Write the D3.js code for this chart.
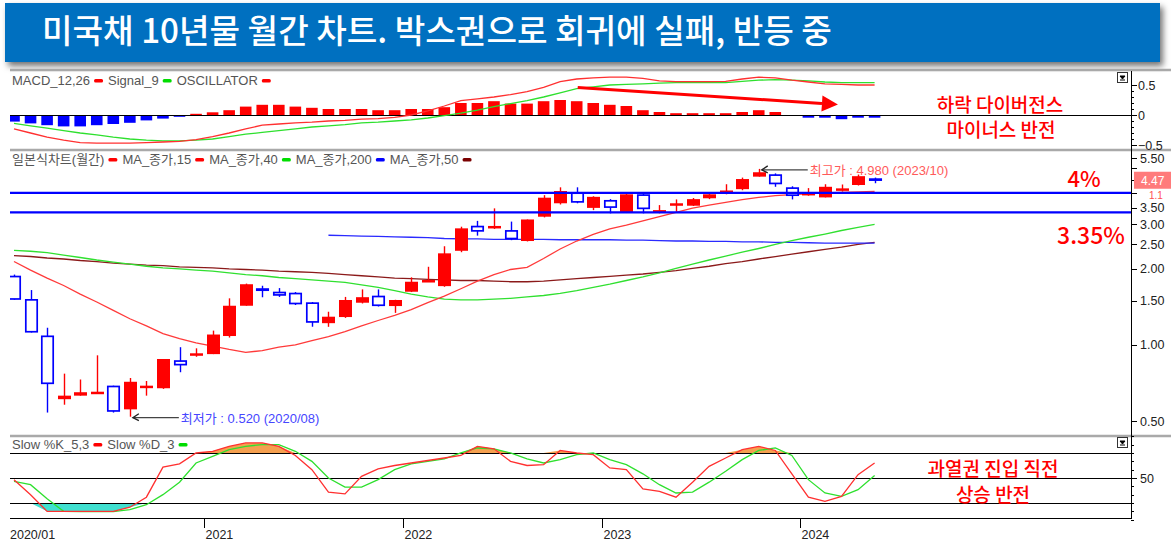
<!DOCTYPE html>
<html><head><meta charset="utf-8">
<script src="https://cdn.jsdelivr.net/npm/d3@7"></script>
<style>body{margin:0;background:#fff;overflow:hidden}svg{display:block}</style>
</head><body>
<svg id="c" width="1171" height="541"></svg>
<script>
// ---------------- DATA ----------------
const months = ["2020/01","2020/02","2020/03","2020/04","2020/05","2020/06","2020/07","2020/08","2020/09","2020/10","2020/11","2020/12",
"2021/01","2021/02","2021/03","2021/04","2021/05","2021/06","2021/07","2021/08","2021/09","2021/10","2021/11","2021/12",
"2022/01","2022/02","2022/03","2022/04","2022/05","2022/06","2022/07","2022/08","2022/09","2022/10","2022/11","2022/12",
"2023/01","2023/02","2023/03","2023/04","2023/05","2023/06","2023/07","2023/08","2023/09","2023/10","2023/11","2023/12",
"2024/01","2024/02","2024/03","2024/04","2024/05"];
const openV = [1.88,1.52,1.09,0.61,0.63,0.643,0.69,0.556,0.677,0.674,
0.87,0.907,0.92,1.085,1.43,1.677,1.625,1.61,1.475,1.22,
1.29,1.47,1.567,1.426,1.625,1.79,1.71,2.36,2.965,2.90,
2.85,2.58,3.22,3.64,4.02,3.49,3.75,3.34,3.95,3.37,
3.60,3.56,3.81,3.99,4.14,4.64,4.74,4.21,3.92,3.84,
4.13,4.30,4.57];
const highV = [1.90,1.65,1.17,0.77,0.73,0.91,0.69,0.74,0.72,0.88,
0.98,0.97,1.14,1.53,1.75,1.716,1.68,1.62,1.48,1.354,
1.55,1.66,1.66,1.51,1.853,2.04,2.46,2.94,3.10,3.475,
3.08,3.14,3.92,4.21,4.21,3.88,3.78,3.98,4.02,3.58,
3.77,3.82,4.02,4.33,4.60,4.98,4.78,4.25,4.18,4.33,
4.32,4.73,4.60];
const lowV = [1.51,1.12,0.54,0.58,0.63,0.64,0.54,0.52,0.63,0.67,
0.78,0.898,0.92,1.07,1.43,1.545,1.55,1.44,1.181,1.18,
1.28,1.46,1.42,1.34,1.62,1.78,1.70,2.33,2.71,2.88,
2.60,2.57,3.20,3.60,3.64,3.42,3.32,3.33,3.32,3.32,
3.37,3.55,3.78,3.95,4.10,4.64,4.23,3.77,3.90,3.84,
4.05,4.28,4.37];
const closeV = [1.51,1.12,0.70,0.63,0.65,0.653,0.544,0.715,0.69,0.88,
0.83,0.927,1.10,1.43,1.74,1.636,1.567,1.449,1.225,1.294,
1.507,1.546,1.426,1.507,1.78,1.808,2.306,2.896,2.81,2.96,
2.62,3.14,3.83,4.07,3.66,3.86,3.49,3.95,3.45,3.42,
3.64,3.78,3.95,4.09,4.54,4.83,4.33,3.89,4.00,4.23,
4.17,4.66,4.47];
const ma15 = [2.14,1.98,1.84,1.72,1.59,1.48,1.37,1.27,1.19,1.11,
1.06,1.02,0.99,0.96,0.935,0.95,0.98,1.00,1.04,1.08,
1.13,1.19,1.25,1.31,1.38,1.47,1.56,1.67,1.79,1.90,
1.99,2.03,2.20,2.40,2.58,2.74,2.88,2.98,3.10,3.22,
3.35,3.48,3.58,3.67,3.76,3.84,3.90,3.94,3.97,4.00,
4.02,4.04,4.06];
const ma40 = [2.37,2.35,2.32,2.27,2.22,2.17,2.13,2.09,2.05,2.02,
2.00,1.98,1.96,1.93,1.90,1.88,1.85,1.83,1.81,1.79,
1.77,1.73,1.69,1.64,1.59,1.55,1.52,1.51,1.51,1.52,
1.53,1.55,1.57,1.60,1.64,1.69,1.74,1.80,1.86,1.93,
2.01,2.09,2.17,2.25,2.33,2.41,2.50,2.59,2.67,2.75,
2.84,2.92,3.00];
const ma200 = [null,null,null,null,null,null,null,null,null,null,
null,null,null,null,null,null,null,null,null,2.72,
2.71,2.70,2.69,2.68,2.67,2.66,2.64,2.63,2.63,2.62,
2.62,2.62,2.62,2.61,2.61,2.61,2.61,2.60,2.60,2.59,
2.58,2.58,2.57,2.57,2.56,2.56,2.55,2.55,2.54,2.53,
2.53,2.53,2.53];
const ma50 = [2.26,2.24,2.21,2.19,2.16,2.14,2.11,2.09,2.07,2.06,
2.04,2.03,2.02,2.00,1.99,1.98,1.96,1.95,1.94,1.92,
1.90,1.88,1.86,1.84,1.83,1.82,1.81,1.80,1.80,1.79,
1.78,1.78,1.79,1.81,1.83,1.85,1.87,1.89,1.91,1.94,
1.97,2.01,2.05,2.10,2.14,2.19,2.24,2.29,2.34,2.39,
2.44,2.50,2.55];
const macdV = [-0.23,-0.30,-0.37,-0.42,-0.46,-0.47,-0.47,-0.47,-0.46,-0.45,
-0.44,-0.41,-0.36,-0.30,-0.23,-0.17,-0.15,-0.13,-0.12,-0.10,
-0.09,-0.07,-0.06,-0.04,0.00,0.07,0.15,0.24,0.27,0.30,
0.34,0.39,0.46,0.555,0.60,0.62,0.63,0.63,0.61,0.57,
0.555,0.555,0.555,0.56,0.60,0.63,0.62,0.58,0.55,0.52,
0.51,0.50,0.50];
const signalV = [-0.14,-0.18,-0.22,-0.26,-0.30,-0.33,-0.37,-0.40,-0.42,-0.43,
-0.43,-0.42,-0.40,-0.36,-0.32,-0.29,-0.26,-0.23,-0.20,-0.18,
-0.16,-0.13,-0.12,-0.10,-0.08,-0.05,-0.01,0.03,0.08,0.14,
0.19,0.24,0.30,0.37,0.44,0.47,0.50,0.51,0.52,0.53,
0.54,0.54,0.54,0.54,0.56,0.58,0.59,0.58,0.57,0.55,
0.54,0.54,0.54];
const oscV = [-0.11,-0.14,-0.17,-0.19,-0.19,-0.17,-0.15,-0.13,-0.09,-0.06,
-0.03,0.02,0.045,0.08,0.14,0.17,0.17,0.14,0.12,0.10,
0.10,0.10,0.08,0.08,0.10,0.10,0.13,0.20,0.20,0.23,
0.19,0.19,0.23,0.25,0.23,0.20,0.17,0.15,0.08,0.05,
0.03,0.03,0.03,0.03,0.05,0.08,0.05,-0.01,-0.045,-0.045,
-0.07,-0.045,-0.045];
const slowK = [48,30,10,10,10,10,10,15,27,63,
67,80,82,88,92,92,88,77,60,33,
31,52,61,65,68,71,74,77,88,85,
70,65,66,83,80,78,62,60,37,34,
27,45,64,74,84,88,83,55,27,22,
28,54,68];
const slowD = [46,42,25,10,9.6,9.6,9.6,12,18,30,
45,68,76,84,88,90,90,82,70,50,
39,39,48,60,67,70,73,80,86,85,
80,73,68,72,78,80,72,66,55,42,
32,33,45,58,72,83,86,77,48,32,
28,36,53];
const priceTickVals = [0.5,1,1.5,2,2.5,3,3.5,4,4.5,5,5.5];
const priceTickLabels = [0.5,1,1.5,2,2.5,3,3.5,5.5];
const macdTickVals = [-0.5,0,0.5];
const yearTickMonths = ["2021/01","2022/01","2023/01","2024/01"];
const yearTickLabels = ["2021","2022","2023","2024"];
const boxLevels = [4.0, 3.35];
const lastPrice = "4.47";
const title = "미국채 10년물 월간 차트. 박스권으로 회귀에 실패, 반등 중";

// ---------------- SETUP ----------------
const svg = d3.select("#c");
const W = 1171, L = 10, AX = 1131;
const FONT = "'Liberation Sans', Arial, 'Noto Sans CJK KR', sans-serif";
const KFONT = "'Noto Sans CJK KR', 'Noto Sans', sans-serif";

const defs = svg.append("defs");
const sh = defs.append("filter").attr("id","sh").attr("x","-5%").attr("y","-20%").attr("width","110%").attr("height","160%");
sh.append("feDropShadow").attr("dx",3).attr("dy",4).attr("stdDeviation",3).attr("flood-color","#000").attr("flood-opacity",0.55);
const clips = [["cM",71,150],["cP",152,434],["cS",437,518]];
clips.forEach(([id,y0,y1])=>defs.append("clipPath").attr("id",id).append("rect").attr("x",L).attr("y",y0).attr("width",AX-L).attr("height",y1-y0));

const x = d3.scaleBand().domain(months).range([5.725, 5.725+16.55*months.length]).paddingInner(0.2).paddingOuter(0.1);
const cx = m => x(m) + x.bandwidth()/2;
const step = x.step();
const yP = d3.scaleLog().domain([0.5,5.5]).range([421,158]);
const yM = d3.scaleLinear().domain([-0.5,0.5]).range([145,85]);
const yS = d3.scaleLinear().domain([0,100]).range([519.7,436.3]);

// ---------------- TITLE BANNER ----------------
svg.append("rect").attr("x",5).attr("y",3).attr("width",1155).attr("height",59).attr("fill","#0070c0").attr("filter","url(#sh)");
const tt = svg.append("text").attr("x",42).attr("y",43).attr("fill","#fff").attr("font-family",KFONT).attr("font-weight",500).attr("font-size",28).text(title);
{ const w = tt.node().getComputedTextLength(); tt.attr("font-size", 28*790/w); }

// ---------------- FRAME ----------------
[70,150,436].forEach(y=>svg.append("line").attr("x1",L).attr("x2",W).attr("y1",y).attr("y2",y).attr("stroke","#a9a9a9").attr("stroke-width",2.5));
svg.append("line").attr("x1",AX+0.5).attr("x2",AX+0.5).attr("y1",71).attr("y2",519).attr("stroke","#000");
svg.append("line").attr("x1",L).attr("x2",AX).attr("y1",518.5).attr("y2",518.5).attr("stroke","#000");

function icon(x0,y0){
  const g = svg.append("g");
  g.append("rect").attr("x",x0+0.5).attr("y",y0+0.5).attr("width",10).attr("height",10).attr("fill","#fff").attr("stroke","#333");
  g.append("path").attr("d",`M${x0+3},${y0+4}h5l-2.5,3z M${x0+3},${y0+8}h5`).attr("fill","#000").attr("stroke","#000").attr("stroke-width",1);
}
icon(1117,72); icon(1117,437);

function legend(y, items){
  let xx = 12;
  items.forEach(([label,color])=>{
    const t = svg.append("text").attr("x",xx).attr("y",y).attr("font-family",FONT).attr("font-size",13).attr("fill","#555").text(label);
    xx += t.node().getComputedTextLength() + 4;
    svg.append("rect").attr("x",xx).attr("y",y-6).attr("width",9).attr("height",3.5).attr("rx",1.5).attr("fill",color);
    xx += 14;
  });
}

// ---------------- MACD PANEL ----------------
const gM = svg.append("g").attr("clip-path","url(#cM)");
gM.selectAll("rect.osc").data(months).join("rect")
  .attr("x",(m)=>cx(m)-5.8).attr("width",11.6)
  .attr("y",(m,i)=>Math.min(yM(oscV[i]),yM(0))).attr("height",(m,i)=>Math.abs(yM(oscV[i])-yM(0)))
  .attr("fill",(m,i)=>oscV[i]>=0?"#ff0000":"#0000ff");
gM.append("line").attr("x1",L).attr("x2",AX).attr("y1",yM(0)+0.5).attr("y2",yM(0)+0.5).attr("stroke","#000");
const lineM = arr => d3.line().x((d,i)=>cx(months[i])).y(d=>yM(d))(arr);
gM.append("path").attr("d",lineM(signalV)).attr("fill","none").attr("stroke","#2ee02e").attr("stroke-width",1.3);
gM.append("path").attr("d",lineM(macdV)).attr("fill","none").attr("stroke","#ff3030").attr("stroke-width",1.3);
legend(85,[["MACD_12,26","#ff0000"],["Signal_9","#00dd00"],["OSCILLATOR","#ff0000"]]);
{
  const x1 = cx("2022/11")+1, y1 = 87.5, x2 = cx("2024/02")-3, y2 = 103.5;
  const ang = Math.atan2(y2-y1,x2-x1);
  svg.append("line").attr("x1",x1).attr("y1",y1).attr("x2",x2).attr("y2",y2).attr("stroke","#ff0000").attr("stroke-width",3);
  const tip=[x2+16*Math.cos(ang), y2+16*Math.sin(ang)];
  const p1=[x2+8*Math.sin(ang), y2-8*Math.cos(ang)], p2=[x2-8*Math.sin(ang), y2+8*Math.cos(ang)];
  svg.append("path").attr("d",`M${tip}L${p1}L${p2}Z`).attr("fill","#ff0000");
}
const axM = svg.append("g");
d3.range(-0.5,0.51,0.1).forEach(v=>axM.append("line").attr("x1",AX).attr("x2",AX+3).attr("y1",Math.round(yM(v))+0.5).attr("y2",Math.round(yM(v))+0.5).attr("stroke","#000"));
macdTickVals.forEach(v=>{
  axM.append("line").attr("x1",AX).attr("x2",AX+6).attr("y1",yM(v)+0.5).attr("y2",yM(v)+0.5).attr("stroke","#000");
  axM.append("text").attr("x",AX+7).attr("y",yM(v)+4.5).attr("font-family",FONT).attr("font-size",12.5).attr("fill","#222").text(v===0?"0":d3.format(".1f")(v));
});

// ---------------- PRICE PANEL ----------------
const gP = svg.append("g").attr("clip-path","url(#cP)");
const lineP = arr => d3.line().defined(d=>d!=null).x((d,i)=>cx(months[i])).y(d=>yP(d))(arr);
[[ma50,"#8b1a1a"],[ma200,"#2a2aff"],[ma40,"#30e030"],[ma15,"#ff3a3a"]].forEach(([arr,c])=>
  gP.append("path").attr("d",lineP(arr)).attr("fill","none").attr("stroke",c).attr("stroke-width",1.3));
const bw = 13;
months.forEach((m,i)=>{
  const up = closeV[i]>=openV[i];
  const col = up?"#ff0000":"#0000ff";
  const xc = Math.round(cx(m))+0.5;
  gP.append("line").attr("x1",xc).attr("x2",xc).attr("y1",yP(highV[i])).attr("y2",yP(lowV[i])).attr("stroke",col).attr("stroke-width",1.4);
  const yt = yP(Math.max(openV[i],closeV[i])), yb = yP(Math.min(openV[i],closeV[i]));
  const h = Math.max(2.5, yb-yt);
  if(up) gP.append("rect").attr("x",xc-bw/2).attr("y",yt).attr("width",bw).attr("height",h).attr("fill",col);
  else gP.append("rect").attr("x",xc-bw/2+0.8).attr("y",yt+0.8).attr("width",bw-1.6).attr("height",Math.max(1,h-1.6)).attr("fill","#fff").attr("stroke",col).attr("stroke-width",1.7);
});
boxLevels.forEach(v=>svg.append("line").attr("x1",L).attr("x2",AX).attr("y1",yP(v)).attr("y2",yP(v)).attr("stroke","#0000ff").attr("stroke-width",2.2));
legend(164,[["일본식차트(월간)","#ff0000"],["MA_종가,15","#ff0000"],["MA_종가,40","#00dd00"],["MA_종가,200","#0000ff"],["MA_종가,50","#7a0000"]]);

function annot(m, v, dy, text, color){
  const tx = cx(m)+3, ty = yP(v)+dy;
  svg.append("line").attr("x1",tx).attr("x2",tx+46).attr("y1",ty).attr("y2",ty).attr("stroke","#444").attr("stroke-width",1.2);
  svg.append("path").attr("d",`M${tx+6},${ty-4}L${tx},${ty}L${tx+6},${ty+3}`).attr("fill","none").attr("stroke","#222").attr("stroke-width",1.3);
  svg.append("text").attr("x",tx+48).attr("y",ty+5).attr("font-family",FONT).attr("font-size",13).attr("fill",color).text(text);
}
annot("2023/10", 4.98, 1, "최고가 : 4.980 (2023/10)", "#ff5a5a");
annot("2020/08", 0.52, 1, "최저가 : 0.520 (2020/08)", "#4646ff");

const axP = svg.append("g");
priceTickVals.forEach(v=>axP.append("line").attr("x1",AX).attr("x2",AX+6).attr("y1",Math.round(yP(v))+0.5).attr("y2",Math.round(yP(v))+0.5).attr("stroke","#000"));
priceTickLabels.forEach(v=>axP.append("text").attr("x",AX+9).attr("y",yP(v)+4.5).attr("font-family",FONT).attr("font-size",12.5).attr("fill","#222").text(d3.format(".2f")(v)));
axP.append("rect").attr("x",AX+3).attr("y",yP(+lastPrice)-9).attr("width",40).attr("height",17).attr("fill","#ff7b7b");
axP.append("text").attr("x",AX+10).attr("y",yP(+lastPrice)+4).attr("font-family",FONT).attr("font-size",12).attr("fill","#fff").text(lastPrice);
axP.append("text").attr("x",AX+18).attr("y",yP(4.0)+6).attr("font-family",FONT).attr("font-size",10).attr("fill","#ff5050").text("1.1");

// ---------------- STOCHASTIC PANEL ----------------
const gS = svg.append("g").attr("clip-path","url(#cS)");
const xs = (d,i)=>cx(months[i]);
gS.append("path").attr("d",d3.area().x(xs).y0(yS(80)).y1(d=>yS(Math.max(d,80)))(slowK)).attr("fill","#f5a050");
gS.append("path").attr("d",d3.area().x(xs).y0(yS(20)).y1(d=>yS(Math.min(d,20)))(slowK)).attr("fill","#40e0d0");
[80,50,20].forEach(v=>gS.append("line").attr("x1",L).attr("x2",AX).attr("y1",Math.round(yS(v))+0.5).attr("y2",Math.round(yS(v))+0.5).attr("stroke","#000"));
gS.append("path").attr("d",d3.line().x(xs).y(d=>yS(d))(slowD)).attr("fill","none").attr("stroke","#2ee02e").attr("stroke-width",1.3);
gS.append("path").attr("d",d3.line().x(xs).y(d=>yS(d))(slowK)).attr("fill","none").attr("stroke","#ff3030").attr("stroke-width",1.3);
legend(449,[["Slow %K_5,3","#ff0000"],["Slow %D_3","#00dd00"]]);
const axS = svg.append("g");
d3.range(0,101,10).forEach(v=>axS.append("line").attr("x1",AX).attr("x2",AX+(v===50?6:3)).attr("y1",Math.round(yS(v))+0.5).attr("y2",Math.round(yS(v))+0.5).attr("stroke","#000"));
axS.append("text").attr("x",AX+9).attr("y",yS(50)+4.5).attr("font-family",FONT).attr("font-size",12.5).attr("fill","#222").text("50");

svg.append("text").attr("x",10).attr("y",539).attr("font-family",FONT).attr("font-size",12.5).attr("fill","#222").text(months[0]);
yearTickMonths.forEach((m,k)=>{
  const tx = Math.round(x(m) - step*0.1)+0.5;
  svg.append("line").attr("x1",tx).attr("x2",tx).attr("y1",518).attr("y2",528).attr("stroke","#000");
  svg.append("text").attr("x",tx+1).attr("y",539).attr("font-family",FONT).attr("font-size",12.5).attr("fill","#222").text(yearTickLabels[k]);
});

// ---------------- ANNOTATIONS ----------------
function note(xc, y, text, size){
  svg.append("text").attr("x",xc).attr("y",y).attr("text-anchor","middle").attr("font-family",KFONT).attr("font-weight",500).attr("font-size",size).attr("fill","#ff0000").text(text);
}
note(1000,112,"하락 다이버전스",19);
note(1001,137,"마이너스 반전",19);
note(1084,187,"4%",22);
note(1091,244,"3.35%",23);
note(993,476,"과열권 진입 직전",19);
note(993,502,"상승 반전",19);
</script>
</body></html>
